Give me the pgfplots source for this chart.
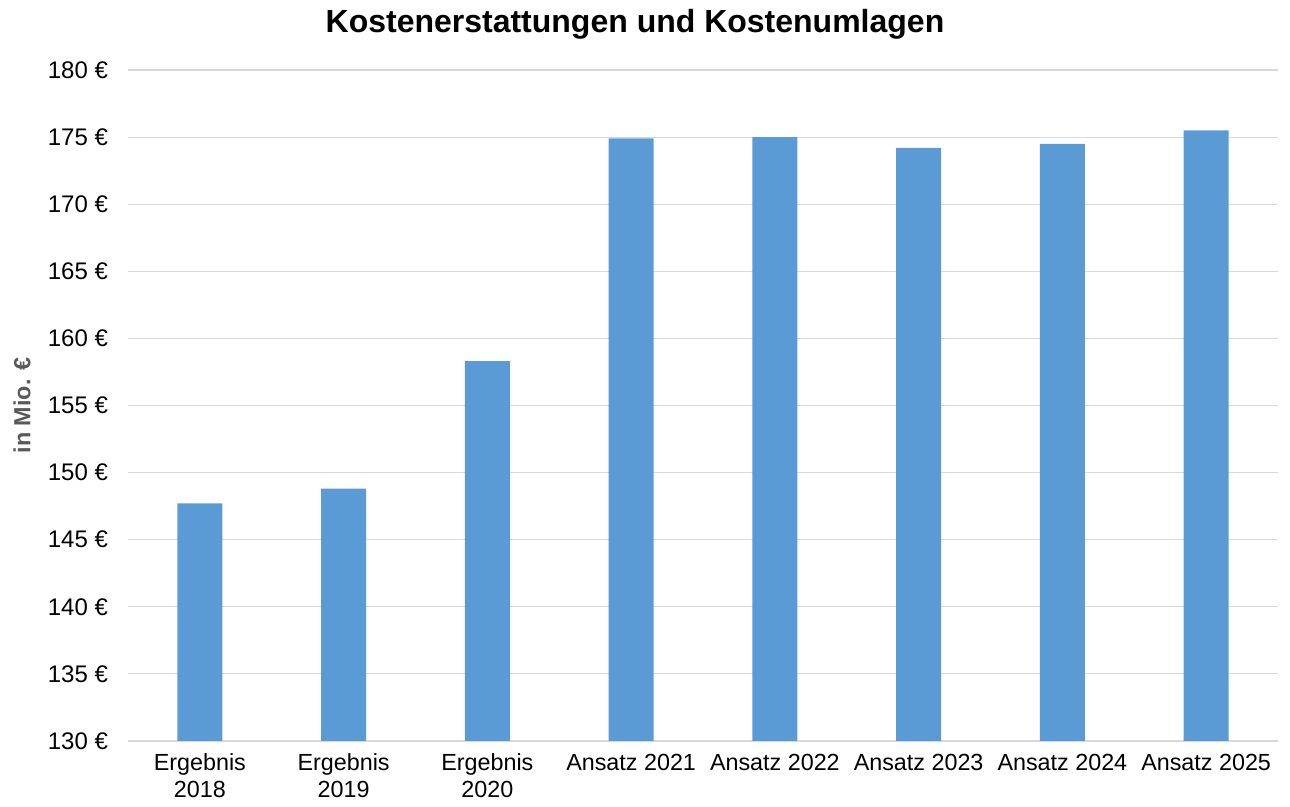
\documentclass[border=0pt]{standalone}
\usepackage{fontspec}
\setmainfont{Liberation Sans}
\usepackage{pgfplots}
\pgfplotsset{compat=1.18}
\definecolor{barblue}{HTML}{5B9BD5}
\definecolor{gridgray}{HTML}{D9D9D9}
\definecolor{labelgray}{HTML}{595959}
\begin{document}
\begin{tikzpicture}
\useasboundingbox (-96pt,-49.5pt) rectangle (871.5pt,555.75pt);
\begin{axis}[
  at={(0,0)}, anchor=south west,
  scale only axis,
  width=862.5pt, height=503.25pt,
  xmin=-0.5, xmax=7.5,
  ymin=130, ymax=180,
  ytick={130,135,...,180},
  xtick={0,...,7},
  xticklabels={{Ergebnis\\2018},{Ergebnis\\2019},{Ergebnis\\2020},{Ansatz 2021},{Ansatz 2022},{Ansatz 2023},{Ansatz 2024},{Ansatz 2025}},
  xticklabel style={align=center, font=\fontsize{17.5}{20}\selectfont, text=black, anchor=north, yshift=-6pt},
  yticklabel style={font=\fontsize{18}{20}\selectfont, text=black, anchor=east, xshift=-11.5pt},
  yticklabel={\pgfmathprintnumber{\tick}~€},
  /pgf/number format/assume math mode=true,
  ymajorgrids,
  grid style={gridgray, line width=0.9pt},
  axis x line*=bottom,
  axis y line*=left,
  x axis line style={gridgray, line width=0.9pt, -},
  y axis line style={draw=none},
  major tick length=0pt,
  tick style={draw=none},
  ylabel={in Mio. €},
  every axis y label/.style={at={(rel axis cs:0,0.5)}, xshift=-79.5pt, rotate=90, anchor=center, font=\bfseries\fontsize{17.5}{20}\selectfont, text=labelgray},
  clip=false,
]
\addplot[ybar, bar width=33.75pt, fill=barblue, draw=none] coordinates {
(0,147.7) (1,148.8) (2,158.3) (3,174.9) (4,175.0) (5,174.2) (6,174.5) (7,175.5)
};
\end{axis}
\node[font=\bfseries\fontsize{24}{28}\selectfont, anchor=center] at (380.25pt,537.75pt) {Kostenerstattungen und Kostenumlagen};
\end{tikzpicture}
\end{document}
